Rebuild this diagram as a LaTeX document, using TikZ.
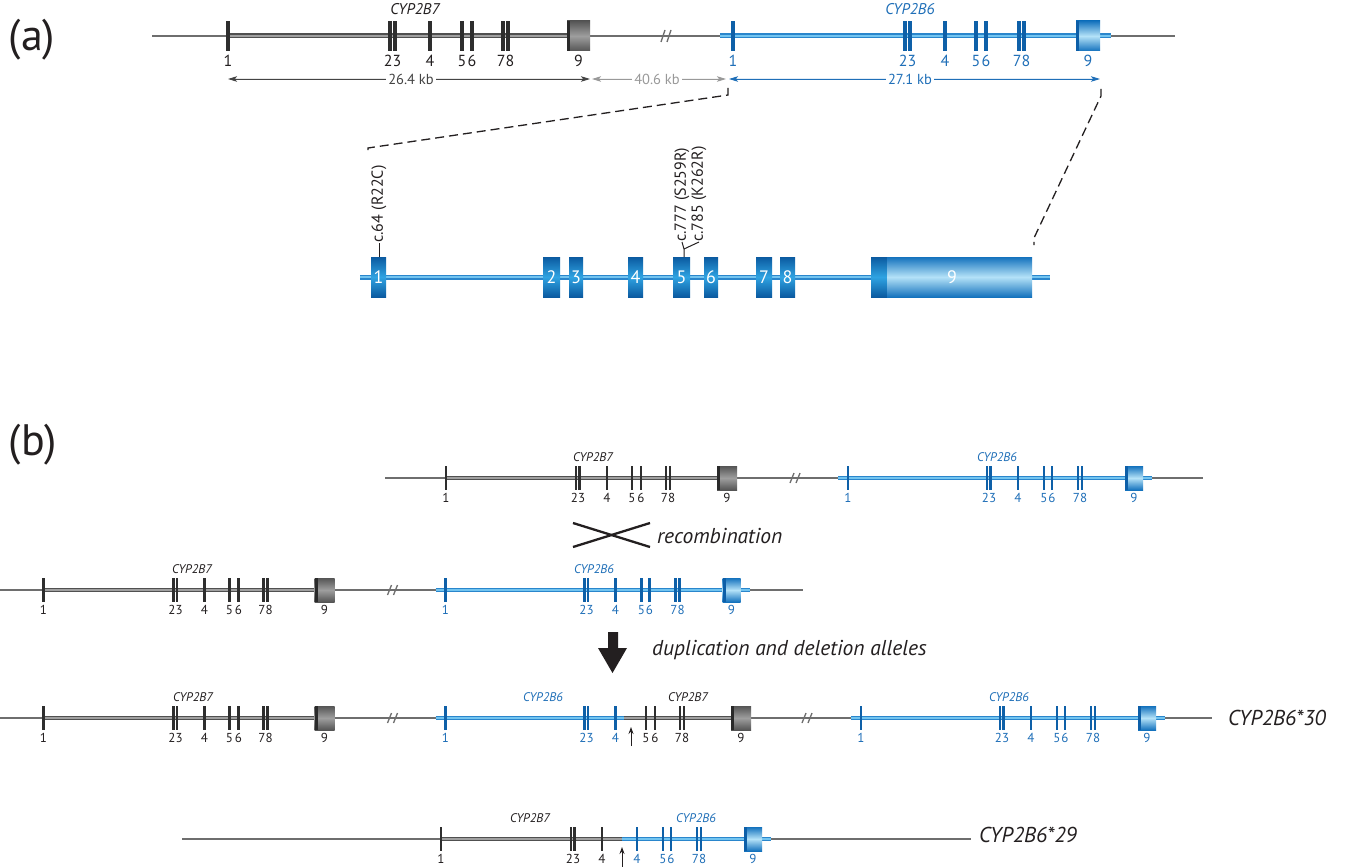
\documentclass[tikz,border=0pt]{standalone}
\usepackage{fontspec}
\setmainfont{PT Sans}
\usetikzlibrary{arrows.meta}
\definecolor{txt}{HTML}{231F20}
\definecolor{gbodyc}{HTML}{505050}
\definecolor{gcorec}{HTML}{A0A0A0}
\definecolor{gexc}{HTML}{2E2E2E}
\definecolor{bbodyc}{HTML}{2A86CC}
\definecolor{bcorec}{HTML}{72C4F0}
\definecolor{bexc}{HTML}{0E60A8}
\definecolor{btext}{HTML}{1F6FB8}
\definecolor{thinc}{HTML}{6E6E6E}
\definecolor{gxA}{HTML}{555555}
\definecolor{gxB}{HTML}{9E9E9E}
\definecolor{gxD}{HTML}{2A2A2A}
\definecolor{bxA}{HTML}{1472BD}
\definecolor{bxB}{HTML}{B4E2F8}
\definecolor{bxD}{HTML}{0D5FA8}
\definecolor{expA}{HTML}{0B5AA0}
\definecolor{expB}{HTML}{2FA3E2}
\definecolor{kbgray}{HTML}{999999}
\definecolor{kbdark}{HTML}{444444}
\newcount\nc
% ticks: style, list, y, half height, half width
\newcommand\Ticks[5]{\foreach \x in {#2}{\fill[#1] ({\x-#5},{#3-#4}) rectangle ({\x+#5},{#3+#4});}}
% box: x1,x2,y,h,kind
\newcommand\GBox[5]{\shade[top color=#5xA,bottom color=#5xA,middle color=#5xB] (#1,{#3-#4}) rectangle (#2,{#3+#4});
 \fill[#5xD] (#1,{#3-#4}) rectangle ({#1+3},{#3+#4});}
% tube: x1,x2,y,body style,core style
\newcommand\Tube[5]{\draw[#4] (#1,#3)--(#2,#3); \draw[#5] (#1,#3)--(#2,#3);}
% numbers: y, color, size, list x/text
\newcommand\Nums[4]{\foreach \x/\t in {#4}{\global\advance\nc by 1
 \node[lab,text=#2,font=\fontsize{#3}{#3}\selectfont] (L\the\nc) at (\x,#1) {\t};}}
% break mark: x,y,dy
\newcommand\Brk[3]{\draw[thin line] ({#1-5},{#2+#3})--({#1-1},{#2-#3}); \draw[thin line] ({#1+1},{#2+#3})--({#1+5},{#2-#3});}
\begin{document}
\begin{tikzpicture}[x=1pt,y=-1pt,
 lab/.style={inner sep=0pt,anchor=center},
 thin line/.style={line width=1.3pt,draw=thinc},
 gA/.style={line width=5pt,draw=gbodyc}, gAc/.style={line width=1.4pt,draw=gcorec},
 bA/.style={line width=5pt,draw=bbodyc}, bAc/.style={line width=1.4pt,draw=bcorec},
 gB/.style={line width=4pt,draw=gbodyc}, gBc/.style={line width=1.1pt,draw=gcorec},
 bB/.style={line width=4pt,draw=bbodyc}, bBc/.style={line width=1.1pt,draw=bcorec},
 gex/.style={fill=gexc}, bex/.style={fill=bexc},
 darr/.style={line width=0.9pt,{Stealth[length=9pt,width=5.5pt,inset=2pt]}-{Stealth[length=9pt,width=5.5pt,inset=2pt]}},
 kb/.style={fill=white,inner sep=2pt,font=\fontsize{14.5}{14.5}\selectfont},
 zoomdash/.style={line width=1.3pt,draw=txt,dash pattern=on 9pt off 5pt},
 mut/.style={rotate=90,anchor=west,inner sep=0pt,text=txt,font=\fontsize{16}{16}\selectfont},
 big/.style={inner sep=0pt,text=txt,font=\fontsize{44}{44}\selectfont},
 note/.style={inner sep=0pt,anchor=west,text=txt,font=\fontsize{21.5}{21.5}\selectfont\itshape},
 allele/.style={inner sep=0pt,anchor=west,text=txt,font=\fontsize{21.5}{21.5}\selectfont\itshape},
 gname/.style={inner sep=0pt,font=\fontsize{15.5}{15.5}\selectfont\itshape},
 sname/.style={inner sep=0pt,font=\fontsize{12.5}{12.5}\selectfont\itshape},
 mtick/.style={line width=1pt,draw=txt},
 uparr/.style={line width=1pt,draw=txt,-{Stealth[length=7pt,width=5pt]}}]
\useasboundingbox (0,0) rectangle (1347,867);
\fill[white] (0,0) rectangle (1347,867);

% ================= (a) =================
\node[big] (pa) at (32,40) {(a)};
\draw[thin line] (152,36)--(720,36); \draw[thin line] (1111,36)--(1175,36);
\Brk{666}{36}{6}
\Tube{228}{567}{36}{gA}{gAc}
\Ticks{gex}{228,390,395,430,462,472,503,508}{36}{15}{1.6}
\GBox{567}{590}{36}{15}{g}
\Tube{720}{1111}{36}{bA}{bAc}
\Ticks{bex}{733,905,910,945,976,986,1019,1024}{36}{15}{1.6}
\GBox{1076}{1100}{36}{15}{b}
\Nums{61}{txt}{16}{228/1,392.5/23,430/4,462/5,472/6,505.5/78,578.5/9}
\Nums{61}{btext}{16}{733/1,907.5/23,945/4,976/5,986/6,1021.5/78,1088/9}
\node[gname,text=txt] (n2b7a) at (415,9) {CYP2B7};
\node[gname,text=btext] (n2b6a) at (910,9) {CYP2B6};

% distance arrows
\coordinate (d1) at (228,79); \coordinate (d2) at (590,79);
\coordinate (d3) at (592,79); \coordinate (d4) at (726,79);
\coordinate (d5) at (729,79); \coordinate (d6) at (1100,79);
\draw[darr,draw=kbdark,fill=kbdark] (d1)--(d2);
\draw[darr,draw=kbgray,fill=kbgray] (d3)--(d4);
\draw[darr,draw=btext,fill=btext] (d5)--(d6);
\node[kb,text=kbdark] (k1) at (411,79) {26.4 kb};
\node[kb,text=kbgray] (k2) at (657,79) {40.6 kb};
\node[kb,text=btext] (k3) at (910,79) {27.1 kb};

% zoom dashes
\coordinate (z1) at (728,88); \coordinate (z2) at (728,95);
\coordinate (z3) at (368,148); \coordinate (z4) at (368,155);
\coordinate (z5) at (1101,89); \coordinate (z6) at (1101,96);
\coordinate (z7) at (1034,238); \coordinate (z8) at (1034,245);
\draw[zoomdash] (z1)--(z2)--(z3)--(z4);
\draw[zoomdash] (z5)--(z6)--(z7)--(z8);

% expanded gene
\Tube{360}{1050}{277}{bA}{bAc}
\foreach \a/\b/\t in {371/386/1,543/560/2,569/583/3,628/643/4,673/690/5,704/718/6,756/772/7,780/795/8}{
 \shade[top color=expA,bottom color=expA,middle color=expB] (\a,257) rectangle (\b,297);
 \global\advance\nc by 1
 \node[lab,text=white,font=\fontsize{18}{18}\selectfont] (L\the\nc) at ({(\a+\b)/2},277) {\t};}
\shade[top color=expA,bottom color=expA,middle color=expB] (871,257) rectangle (887,297);
\shade[top color=bxA,bottom color=bxA,middle color=bxB] (887,257) rectangle (1032,297);
\node[lab,text=white,font=\fontsize{18}{18}\selectfont] (e9) at (952,277) {9};

% mutations
\node[mut] (m1) at (379,243) {c.64 (R22C)};
\node[mut] (m2) at (682,242) {c.777 (S259R)};
\node[mut] (m3) at (699,242) {c.785 (K262R)};
\draw[mtick] (379,257)--(m1.west);
\draw[mtick] (684,257)--(684,249)--(m2.west);
\draw[mtick] (684,249)--(m3.west);

% ================= (b) =================
\node[big] (pb) at (33,445) {(b)};

% row 1
\draw[thin line] (385,478)--(838,478); \draw[thin line] (1152,478)--(1203,478);
\Brk{795}{478}{5}
\Tube{446}{717}{478}{gB}{gBc}
\Ticks{gex}{446,576,579.5,607,632,641,666,670}{478}{12}{1.3}
\GBox{717}{737}{478}{12}{g}
\Tube{838}{1152}{478}{bB}{bBc}
\Ticks{bex}{848,987,990.5,1018,1044,1052,1078,1082}{478}{12}{1.3}
\GBox{1125}{1143}{478}{12}{b}
\Nums{498}{txt}{13}{446/1,578/23,607/4,632/5,641/6,668/78,727/9}
\Nums{498}{btext}{13}{848/1,989/23,1018/4,1044/5,1052/6,1080/78,1134/9}
\node[sname,text=txt] (r1a) at (593,457) {CYP2B7};
\node[sname,text=btext] (r1b) at (997,457) {CYP2B6};

% recombination
\coordinate (x1) at (573,523); \coordinate (x2) at (650,547);
\coordinate (x3) at (573,547); \coordinate (x4) at (650,523);
\draw[line width=2.3pt,draw=txt] (x1)--(x2);
\draw[line width=2.3pt,draw=txt] (x3)--(x4);
\node[note] (rec) at (657,536) {recombination};

% row 2
\draw[thin line] (0,590)--(435.5,590); \draw[thin line] (749.5,590)--(803,590);
\Brk{392.5}{590}{5}
\Tube{43.5}{314.5}{590}{gB}{gBc}
\Ticks{gex}{43.5,173.5,177,204.5,229.5,238.5,263.5,267.5}{590}{12}{1.3}
\GBox{314.5}{334.5}{590}{12}{g}
\Tube{435.5}{749.5}{590}{bB}{bBc}
\Ticks{bex}{445.5,584.5,588,615.5,641.5,649.5,675.5,679.5}{590}{12}{1.3}
\GBox{722.5}{740.5}{590}{12}{b}
\Nums{610}{txt}{13}{43.5/1,175.5/23,204.5/4,229.5/5,238.5/6,265.5/78,324.5/9}
\Nums{610}{btext}{13}{445.5/1,586.5/23,615.5/4,641.5/5,649.5/6,677.5/78,731.5/9}
\node[sname,text=txt] (r2a) at (192,569) {CYP2B7};
\node[sname,text=btext] (r2b) at (594,569) {CYP2B6};

% big arrow
\fill[txt] (608,632)--(618,632)--(618,648)--(627,648)--(612.5,673)--(598,648)--(608,648)--cycle;
\node[note] (dup) at (652,650) {duplication and deletion alleles};

% row 3
\draw[thin line] (0,718)--(435.5,718); \draw[thin line] (751,718)--(851,718); \draw[thin line] (1165,718)--(1212,718);
\Brk{392.5}{718}{5}
\Brk{807}{718}{5}
\Tube{43.5}{314.5}{718}{gB}{gBc}
\Ticks{gex}{43.5,173.5,177,204.5,229.5,238.5,263.5,267.5}{718}{12}{1.3}
\GBox{314.5}{334.5}{718}{12}{g}
\Tube{435.5}{624}{718}{bB}{bBc}
\Tube{624}{731}{718}{gB}{gBc}
\Ticks{bex}{445.5,584.5,588,615.5}{718}{12}{1.3}
\Ticks{gex}{646,655,680,684}{718}{12}{1.3}
\GBox{731}{751}{718}{12}{g}
\Tube{851}{1165}{718}{bB}{bBc}
\Ticks{bex}{861,1000,1003.5,1031,1057,1065,1091,1095}{718}{12}{1.3}
\GBox{1138}{1156}{718}{12}{b}
\Nums{738}{txt}{13}{43.5/1,175.5/23,204.5/4,229.5/5,238.5/6,265.5/78,324.5/9}
\Nums{738}{btext}{13}{445.5/1,586.5/23,615.5/4}
\Nums{738}{txt}{13}{646/5,655/6,682/78,741/9}
\Nums{738}{btext}{13}{861/1,1002/23,1031/4,1057/5,1065/6,1093/78,1147/9}
\node[sname,text=txt] (r3a) at (193,697) {CYP2B7};
\node[sname,text=btext] (r3b) at (543,697) {CYP2B6};
\node[sname,text=txt] (r3c) at (688,697) {CYP2B7};
\node[sname,text=btext] (r3d) at (1009,697) {CYP2B6};
\coordinate (u1) at (631,746); \coordinate (u2) at (631,727);
\draw[uparr] (u1)--(u2);
\node[allele] (a30) at (1228,718) {CYP2B6*30};

% row 4
\draw[thin line] (182,839)--(441,839); \draw[thin line] (771,839)--(971,839);
\Tube{441}{622}{839}{gB}{gBc}
\Tube{622}{771}{839}{bB}{bBc}
\Ticks{gex}{441,571,574.5,602}{839}{12}{1.3}
\Ticks{bex}{637,663,671,697,701}{839}{12}{1.3}
\GBox{744}{762}{839}{12}{b}
\Nums{859}{txt}{13}{441/1,573/23,602/4}
\Nums{859}{btext}{13}{637/4,663/5,671/6,699/78,753/9}
\node[sname,text=txt] (r4a) at (530,818) {CYP2B7};
\node[sname,text=btext] (r4b) at (696,818) {CYP2B6};
\coordinate (v1) at (622,867); \coordinate (v2) at (622,847);
\draw[uparr] (v1)--(v2);
\node[allele] (a29) at (979,835) {CYP2B6*29};
\end{tikzpicture}
\end{document}
